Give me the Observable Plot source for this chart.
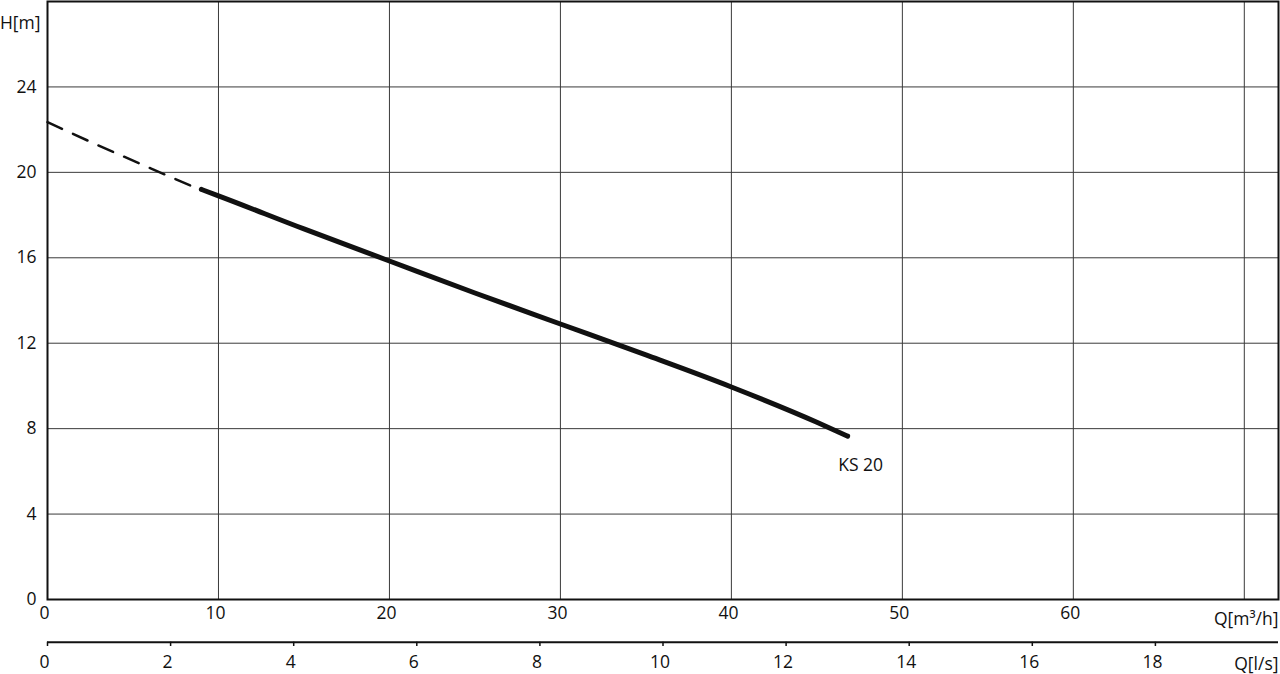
<!DOCTYPE html>
<html>
<head>
<meta charset="utf-8">
<script src="https://cdn.jsdelivr.net/npm/d3@7"></script>
<script src="https://cdn.jsdelivr.net/npm/@observablehq/plot@0.6"></script>
<style>
  html, body { margin: 0; padding: 0; background: #fff; }
  svg { display: block; }
</style>
</head>
<body>
<div id="chart"></div>
<script>
// Flow Q in m³/h and head H in m
const qDashed = [0, 3, 6, 8.6];
const hDashed = [22.35, 21.25, 20.2, 19.3];
const qSolid = [9, 10, 15, 20, 25, 30, 35, 40, 45, 46.8];
const hSolid = [19.2, 18.9, 17.35, 15.85, 14.35, 12.9, 11.45, 9.95, 8.3, 7.65];
const seriesName = "KS 20";

const qTicks = [0, 10, 20, 30, 40, 50, 60];
const qGrid = [10, 20, 30, 40, 50, 60, 70];
const hTicks = [0, 4, 8, 12, 16, 20, 24];
const hGrid = [4, 8, 12, 16, 20, 24];
const lsTicks = [0, 2, 4, 6, 8, 10, 12, 14, 16, 18];
const lsToM3h = 3.6;

const dashed = qDashed.map((q, i) => ({q, h: hDashed[i]}));
const solid = qSolid.map((q, i) => ({q, h: hSolid[i]}));

const chart = Plot.plot({
  width: 1280,
  height: 674,
  marginLeft: 47,
  marginRight: 2,
  marginTop: 1,
  marginBottom: 75,
  style: {fontFamily: "'Open Sans', 'DejaVu Sans', sans-serif", fontSize: "17.5px", color: "#111", background: "#fff"},
  x: {domain: [0, 72]},
  y: {domain: [0, 28]},
  marks: [
    Plot.gridX(qGrid, {stroke: "#3a3a3a", strokeOpacity: 1, strokeWidth: 1}),
    Plot.gridY(hGrid, {stroke: "#3a3a3a", strokeOpacity: 1, strokeWidth: 1}),
    Plot.frame({stroke: "#111", strokeWidth: 2}),
    Plot.axisX(qTicks, {tickSize: 0, tickPadding: 7, label: null, dx: -3}),
    Plot.axisY(hTicks, {tickSize: 0, tickPadding: 11, label: null}),
    Plot.line(dashed, {x: "q", y: "h", stroke: "#111", strokeWidth: 2.5, strokeDasharray: "16,12"}),
    Plot.line(solid, {x: "q", y: "h", stroke: "#111", strokeWidth: 5, strokeLinecap: "round", curve: "monotone-x"}),
    Plot.text([seriesName], {x: qSolid[qSolid.length - 1], y: hSolid[hSolid.length - 1], text: d => d, dx: 13, dy: 29, fill: "#111"}),
    // secondary Q [l/s] axis
    Plot.ruleY([-2], {x1: 0, x2: 72, stroke: "#111", strokeWidth: 2, clip: false}),
    Plot.ruleX(lsTicks, {x: d => d * lsToM3h, y1: -2, y2: -2.2, stroke: "#111", strokeWidth: 1.5}),
    Plot.text(lsTicks, {x: d => d * lsToM3h, y: -2.95, text: d => String(d), dx: -3, fill: "#111"}),
    // axis labels
    Plot.text(["H[m]"], {frameAnchor: "top-left", text: d => d, dx: -7, dy: 15, textAnchor: "end", fill: "#111"}),
    Plot.text(["Q[m³/h]"], {frameAnchor: "bottom-right", text: d => d, dy: 25, textAnchor: "end", fill: "#111"}),
    Plot.text(["Q[l/s]"], {frameAnchor: "bottom-right", text: d => d, dy: 70, textAnchor: "end", fill: "#111"})
  ]
});
document.getElementById("chart").appendChild(chart);
</script>
</body>
</html>
